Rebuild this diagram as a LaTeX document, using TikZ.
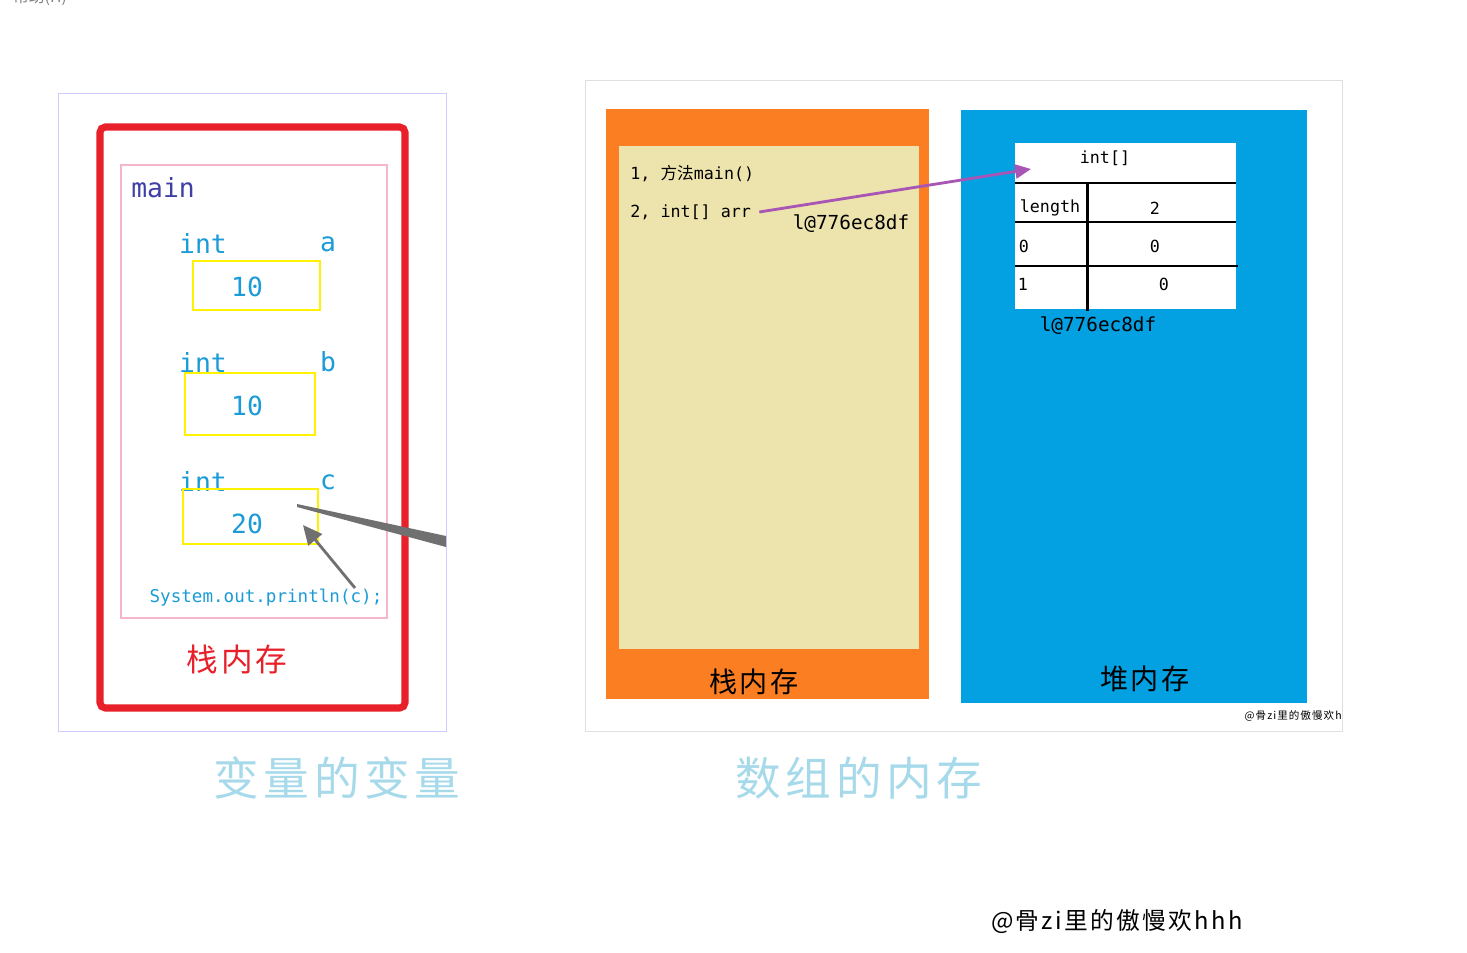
\documentclass[tikz,border=0pt]{standalone}
\usepackage{fontspec}
\setmainfont{Noto Sans CJK SC}
\newfontfamily\codefont{DejaVu Sans Mono}
\newfontfamily\cnfont{Noto Sans CJK SC}
\newfontfamily\capfont[LetterSpace=10]{Noto Sans CJK SC}
\usetikzlibrary{arrows.meta,positioning,calc}

\definecolor{stackred}{HTML}{E8202A}
\definecolor{framepink}{HTML}{F4B6C8}
\definecolor{cellyellow}{HTML}{FFF200}
\definecolor{codeblue}{HTML}{1B9BD7}
\definecolor{mainblue}{HTML}{3F3FA5}
\definecolor{stackorange}{HTML}{FB7E23}
\definecolor{stackbeige}{HTML}{EDE4AD}
\definecolor{heapblue}{HTML}{03A0E2}
\definecolor{refpurple}{HTML}{A855B6}
\definecolor{captionblue}{HTML}{A6DAEA}
\definecolor{pointgray}{HTML}{707070}

\begin{document}
\begin{tikzpicture}[
        x=0.02cm, y=-0.02cm,
        every node/.style={inner sep=0pt},
        panel/.style={rectangle, fill=white, line width=0.8pt},
        varcell/.style={rectangle, draw=cellyellow, line width=1.7pt},
        code/.style={font=\codefont\fontsize{15}{17}\selectfont, text=codeblue},
        smallcode/.style={font=\codefont\fontsize{9.5}{11}\selectfont},
        cntitle/.style={font=\capfont\fontsize{16}{19}\selectfont},
        caption/.style={font=\capfont\fontsize{26}{28}\selectfont, text=captionblue},
        grayarrow/.style={-{Triangle[length=11pt, width=10pt]}, draw=pointgray, fill=pointgray, line width=1.6pt},
        refarrow/.style={-{Triangle[length=9pt, width=8pt]}, draw=refpurple, fill=refpurple, line width=1.6pt},
        tableline/.style={draw=black, line width=1.7pt}
        ]
        \useasboundingbox (0,0) rectangle (1467,953);

        % menu text cut off at the top
        \node[font=\cnfont\fontsize{9}{10}\selectfont, text=gray] (menu) at (40,-3) {帮助(H)};

        % Left picture: variables on the stack
        \node[panel, draw=blue!20, minimum width=388*0.02cm, minimum height=638*0.02cm, anchor=north west] (leftpic) at (58,93) {};
        \draw[stackred, line width=4pt, rounded corners=3pt] (100,127) rectangle (405,708);
        \draw[framepink, line width=1.4pt] (121,165) rectangle (387,618);
        \node[code, text=mainblue, anchor=west] (main) at (131,188) {main};

        \node[code] (inta) at (203,243) {int};
        \node[code] (namea) at (328,244) {a};
        \node[varcell, minimum width=127*0.02cm, minimum height=49*0.02cm] (cella) at (256.5,285.5) {};
        \node[code] (vala) at (247,287) {10};

        \node[code] (intb) at (203,362) {int};
        \node[code] (nameb) at (328,362) {b};
        \node[varcell, minimum width=130*0.02cm, minimum height=62*0.02cm] (cellb) at (250,404) {};
        \node[code] (valb) at (247,406) {10};

        \node[code] (intc) at (203,481) {int};
        \node[code] (namec) at (328,482) {c};
        \node[varcell, minimum width=135*0.02cm, minimum height=55*0.02cm] (cellc) at (250.5,516.5) {};
        \node[code] (valc) at (247,524) {20};

        \node[code, font=\codefont\fontsize{10}{12}\selectfont] (println) at (266,598) {System.out.println(c);};
        \node[cntitle, font=\capfont\fontsize{18}{21}\selectfont, text=stackred] (leftstack) at (237,660) {栈内存};

        \coordinate (printtop) at (355,588);
        \coordinate (cellhit) at (303,525);
        \draw[grayarrow] (printtop) -- (cellhit);
        \fill[pointgray] (297,504) -- (446,536) -- (446,547) -- (297,507) -- cycle;

        % Right picture: array memory
        \node[panel, draw=gray!25, minimum width=757*0.02cm, minimum height=651*0.02cm, anchor=north west] (rightpic) at (585,80) {};
        \fill[stackorange] (606,109) rectangle (929,699);
        \fill[stackbeige] (619,146) rectangle (919,649);
        \node[smallcode, anchor=west] (method) at (630,174) {1,\ {\cnfont 方法}main()};
        \node[smallcode, anchor=west] (arr) at (630,212) {2,\ int[] arr};
        \node[smallcode, font=\codefont\fontsize{11}{13}\selectfont] (addrstack) at (851,224) {l@776ec8df};
        \node[cntitle] (rightstack) at (754,682) {栈内存};

        \fill[heapblue] (961,110) rectangle (1307,703);
        \node[rectangle, fill=white, minimum width=221*0.02cm, minimum height=166*0.02cm, anchor=north west] (table) at (1015,143) {};
        \node[smallcode] (type) at (1105,158) {int[]};
        \draw[tableline] (1015,183) -- (1236,183);
        \draw[tableline] (1015,222) -- (1236,222);
        \draw[tableline] (1015,266) -- (1238,266);
        \draw[tableline] (1087,183) -- (1087,311);
        \node[smallcode] (lenkey) at (1050,208) {length};
        \node[smallcode] (lenval) at (1155,208) {2};
        \node[smallcode] (key0) at (1024,246) {0};
        \node[smallcode] (val0) at (1155,246) {0};
        \node[smallcode] (key1) at (1023,284) {1};
        \node[smallcode] (val1) at (1164,284) {0};
        \node[smallcode, font=\codefont\fontsize{11}{13}\selectfont] (addrheap) at (1098,326) {l@776ec8df};
        \node[cntitle] (heap) at (1145,679) {堆内存};

        \coordinate (tablehit) at (1031,169);
        \draw[refarrow] (arr.east) ++(8,0) -- (tablehit);

        \node[font=\capfont\fontsize{6}{7}\selectfont, anchor=east] (smallmark) at (1342,716) {@骨zi里的傲慢欢h};

        % Captions
        \node[caption] (capleft) at (337,778) {变量的变量};
        \node[caption] (capright) at (859,778) {数组的内存};
        \node[font=\capfont\fontsize{13.5}{15}\selectfont] (mark) at (1117,922) {@骨zi里的傲慢欢hhh};
\end{tikzpicture}
\end{document}
